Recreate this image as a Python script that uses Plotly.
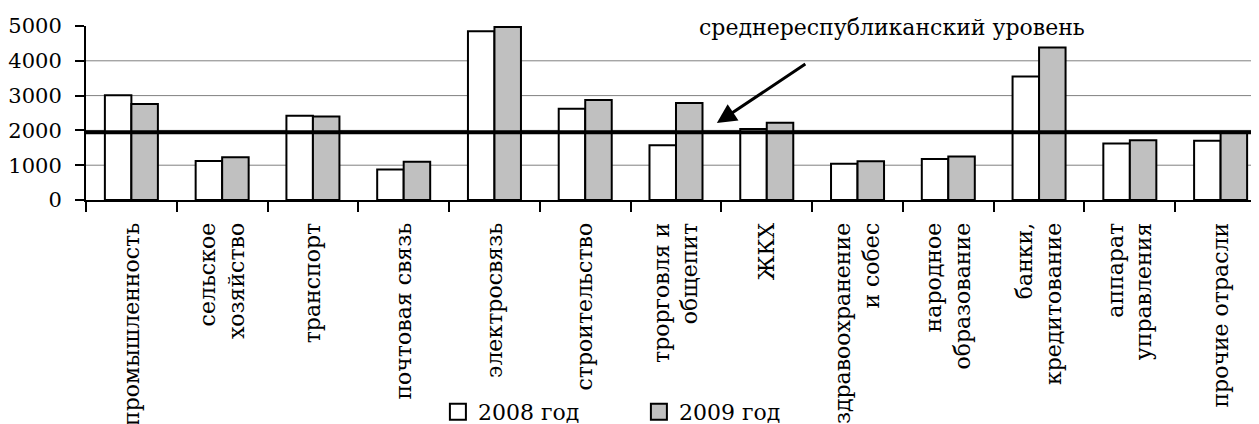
import plotly.graph_objects as go

categories = [
    "промышленность",
    "сельское<br>хозяйство",
    "транспорт",
    "почтовая связь",
    "электросвязь",
    "строительство",
    "трорговля и<br>общепит",
    "ЖКХ",
    "здравоохранение<br>и собес",
    "народное<br>образование",
    "банки,<br>кредитование",
    "аппарат<br>управления",
    "прочие отрасли",
]
values_2008 = [3010, 1120, 2420, 880, 4850, 2620, 1570, 2040, 1040, 1180, 3550, 1620, 1700]
values_2009 = [2760, 1230, 2400, 1100, 4970, 2870, 2790, 2220, 1110, 1250, 4380, 1720, 1950]
average_level = 1950
grid_values = [1000, 2000, 3000, 4000]
y_ticks = [0, 1000, 2000, 3000, 4000, 5000]
series_names = ["2008 год", "2009 год"]
series_colors = ["#FFFFFF", "#C0C0C0"]
annotation_text = "среднереспубликанский уровень"

FONT = "DejaVu Serif"

fig = go.Figure()
for name, vals, col in zip(series_names, [values_2008, values_2009], series_colors):
    fig.add_trace(go.Bar(
        x=categories, y=vals, name=name, showlegend=False,
        marker=dict(color=col, line=dict(color="black", width=2)),
    ))
for name, col in zip(series_names, series_colors):
    fig.add_trace(go.Scatter(
        x=[None], y=[None], mode="markers", name=name,
        marker=dict(symbol="square", size=16, color=col, line=dict(color="black", width=2)),
    ))

shapes = []
for g in grid_values:
    shapes.append(dict(type="line", xref="paper", yref="y", x0=0, x1=1, y0=g, y1=g,
                       line=dict(color="#808080", width=1), layer="below"))
shapes.append(dict(type="line", xref="paper", yref="y", x0=0, x1=1, y0=average_level, y1=average_level,
                   line=dict(color="black", width=4), layer="above"))

fig.update_layout(
    width=1251, height=416,
    margin=dict(l=78, r=0, t=18, b=224, autoexpand=False),
    paper_bgcolor="white", plot_bgcolor="white",
    font=dict(family=FONT, size=22, color="black"),
    barmode="group", bargap=0.416, bargroupgap=0,
    shapes=shapes,
    legend=dict(orientation="h", x=0.300, xanchor="left", y=-1.218, yanchor="middle",
                font=dict(family=FONT, size=22), itemsizing="trace",
                entrywidth=156, entrywidthmode="pixels", bgcolor="rgba(0,0,0,0)"),
    annotations=[
        dict(text=annotation_text, xref="paper", yref="paper", x=0.687, y=0.994,
             showarrow=False, font=dict(family=FONT, size=22), xanchor="center", yanchor="middle"),
        dict(text="", xref="x", yref="y", x=6.45, y=2210, ax=90, ay=-60,
             showarrow=True, arrowhead=2, arrowsize=1.3, arrowwidth=3, arrowcolor="black"),
    ],
)
fig.update_xaxes(
    type="category", range=[-0.5, 12.423], automargin=False,
    showline=True, linecolor="black", linewidth=2,
    ticks="outside", tickson="boundaries", ticklen=10, tickwidth=2, tickcolor="black",
    tickangle=-90, tickfont=dict(family=FONT, size=22), showgrid=False,
    ticklabelstandoff=12,
)
fig.update_yaxes(
    range=[0, 5000], tickvals=y_ticks, showgrid=False, zeroline=False, automargin=False,
    showline=True, linecolor="black", linewidth=2,
    ticks="outside", ticklen=9, tickwidth=2, tickcolor="black",
    tickfont=dict(family=FONT, size=21), ticklabelstandoff=9,
)
fig.write_html("out.html")
